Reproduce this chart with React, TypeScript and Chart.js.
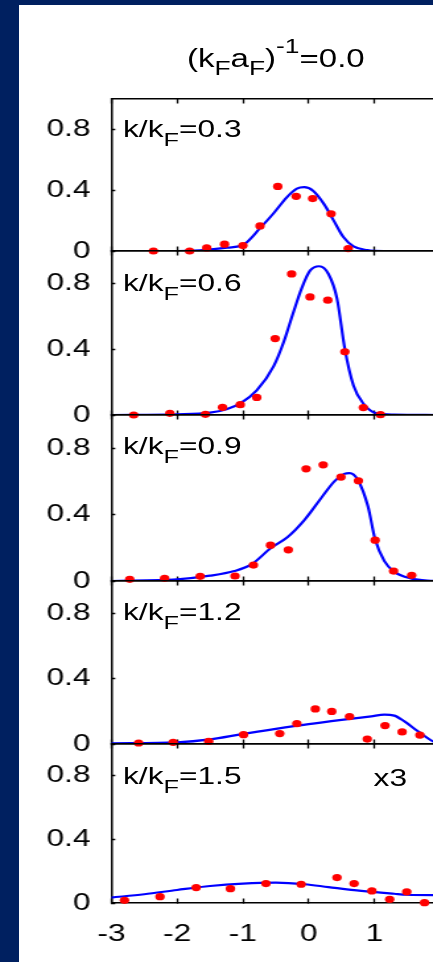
import React, { useEffect, useRef } from 'react';
import { Chart, registerables } from 'chart.js';

Chart.register(...registerables);

// ---------------- data ----------------
const TITLE_VALUE = '0.0';
const panelKValues = ['0.3', '0.6', '0.9', '1.2', '1.5'];
const panelScaleNotes = ['', '', '', '', 'x3'];
const xTickValues = [-3, -2, -1, 0, 1, 2];
const xTickLabels = ['-3', '-2', '-1', '0', '1', ''];
const yTickValues = [0, 0.4, 0.8];
const yTickLabels = ['0', '0.4', '0.8'];

// k/kF = 0.3
const dots03X = [-2.36, -1.81, -1.55, -1.28, -1.0, -0.74, -0.47, -0.19, 0.06, 0.34, 0.6];
const dots03Y = [0.0, 0.0, 0.02, 0.045, 0.036, 0.165, 0.425, 0.36, 0.345, 0.245, 0.016];
const fit03X = [-3, -2.0, -1.65, -1.24, -0.99, -0.74, -0.53, -0.33, -0.18, -0.07, 0.07, 0.23, 0.38, 0.53, 0.68, 0.89, 1.14, 2];
const fit03Y = [0, 0.0, 0.005, 0.022, 0.042, 0.15, 0.25, 0.355, 0.41, 0.42, 0.395, 0.31, 0.2, 0.09, 0.03, 0.006, 0, 0];

// k/kF = 0.6
const dots06X = [-2.66, -2.11, -1.57, -1.31, -1.04, -0.79, -0.51, -0.26, 0.02, 0.29, 0.55, 0.83, 1.09];
const dots06Y = [0.0, 0.01, 0.004, 0.047, 0.063, 0.107, 0.466, 0.86, 0.72, 0.7, 0.385, 0.045, 0.002];
const fit06X = [-3, -2.0, -1.5, -1.25, -1.04, -0.79, -0.53, -0.38, -0.23, -0.1, 0.02, 0.16, 0.3, 0.43, 0.55, 0.68, 0.83, 1.03, 1.3, 2];
const fit06Y = [0, 0.004, 0.014, 0.035, 0.071, 0.15, 0.3, 0.445, 0.63, 0.78, 0.88, 0.907, 0.86, 0.71, 0.4, 0.18, 0.07, 0.01, 0.002, 0];

// k/kF = 0.9
const dots09X = [-2.72, -2.19, -1.65, -1.12, -0.84, -0.58, -0.31, -0.04, 0.22, 0.49, 0.755, 1.01, 1.29, 1.565];
const dots09Y = [0.01, 0.016, 0.028, 0.03, 0.096, 0.216, 0.188, 0.676, 0.7, 0.626, 0.604, 0.246, 0.06, 0.034];
const fit09X = [-3, -2.0, -1.5, -1.13, -0.87, -0.57, -0.32, -0.06, 0.19, 0.39, 0.54, 0.62, 0.745, 0.9, 1.01, 1.15, 1.3, 1.55, 1.8, 2];
const fit09Y = [0, 0.01, 0.032, 0.06, 0.1, 0.2, 0.265, 0.37, 0.5, 0.6, 0.645, 0.65, 0.61, 0.45, 0.25, 0.12, 0.055, 0.016, 0.002, 0];

// k/kF = 1.2
const dots12X = [-2.585, -2.06, -1.52, -0.99, -0.44, -0.18, 0.1, 0.35, 0.62, 0.89, 1.16, 1.42, 1.69];
const dots12Y = [0.006, 0.01, 0.016, 0.057, 0.064, 0.125, 0.215, 0.2, 0.168, 0.03, 0.113, 0.074, 0.055];
const fit12X = [-3, -2.0, -1.5, -1.0, -0.5, 0.0, 0.5, 0.95, 1.15, 1.3, 1.45, 1.66, 1.89, 2];
const fit12Y = [0.004, 0.01, 0.028, 0.062, 0.093, 0.122, 0.148, 0.17, 0.18, 0.174, 0.14, 0.078, 0.016, 0];

// k/kF = 1.5 (x3)
const dots15X = [-2.8, -2.26, -1.71, -1.19, -0.65, -0.115, 0.43, 0.69, 0.96, 1.23, 1.49, 1.76];
const dots15Y = [0.017, 0.04, 0.097, 0.09, 0.122, 0.118, 0.16, 0.122, 0.076, 0.023, 0.07, 0.002];
const fit15X = [-3, -2.5, -2.0, -1.5, -1.0, -0.5, -0.06, 0.3, 0.8, 1.3, 1.49, 1.9, 2];
const fit15Y = [0.034, 0.055, 0.082, 0.107, 0.122, 0.128, 0.118, 0.1, 0.076, 0.058, 0.052, 0.05, 0.05];

// ---------------- layout / style ----------------
const NAVY = '#002060';
const RED = '#ff0000';
const BLUE = '#0000ff';
const FONT = '"Liberation Sans", Arial, Helvetica, sans-serif';
const S = 1.32; // horizontal stretch of the whole figure
const PLOT_LEFT = 111.3 / S;
const PLOT_RIGHT = 440.3 / S;
const CANVAS_W = 360;
const PANEL_EDGES = [99, 251, 415, 581, 744, 903];
const PAD_TOP = 38;
const PAD_BOTTOM = [38, 38, 38, 38, 62];
const LABEL_BASELINES = [137.3, 291.5, 454.7, 620.7, 784.7];
const LABEL_LEFT = 93.2;
const NOTE_LEFT = 283;
const BASE_K = 0.8465; // baseline offset factor for line-height 1

type PanelProps = {
  index: number;
  dotsX: number[];
  dotsY: number[];
  fitX: number[];
  fitY: number[];
};

function Panel({ index, dotsX, dotsY, fitX, fitY }: PanelProps) {
  const ref = useRef<HTMLCanvasElement | null>(null);
  const top = PANEL_EDGES[index] - PAD_TOP;
  const h = PANEL_EDGES[index + 1] - PANEL_EDGES[index];
  const H = PAD_TOP + h + PAD_BOTTOM[index];
  const showX = index === PANEL_EDGES.length - 2;

  useEffect(() => {
    if (!ref.current) return;
    const tickFont = { family: FONT, size: 24, lineHeight: 1.2 };
    const xCommon = (pos: 'top' | 'bottom', boxH: number, labels: boolean) => ({
      type: 'linear' as const,
      position: pos,
      min: xTickValues[0],
      max: xTickValues[xTickValues.length - 1],
      afterBuildTicks: (s: any) => {
        s.ticks = xTickValues.map((v) => ({ value: v }));
      },
      afterFit: (s: any) => {
        s.height = boxH;
      },
      ticks: {
        display: labels,
        font: tickFont,
        color: '#000',
        padding: 21.3,
        maxRotation: 0,
        autoSkip: false,
        callback: (_v: any, i: number) => xTickLabels[i],
      },
      grid: {
        drawOnChartArea: false,
        drawTicks: true,
        tickLength: -4.5,
        tickWidth: 1.3,
        tickColor: '#000',
      },
      border: { display: true, color: '#000', width: 1.6 },
    });

    const chart = new Chart(ref.current, {
      type: 'scatter',
      data: {
        datasets: [
          {
            data: dotsX.map((x, i) => ({ x, y: dotsY[i] })),
            showLine: false,
            pointRadius: 3.6,
            pointHoverRadius: 3.6,
            pointBackgroundColor: RED,
            pointBorderWidth: 0,
            clip: false as any,
          },
          {
            data: fitX.map((x, i) => ({ x, y: fitY[i] })),
            showLine: true,
            borderColor: BLUE,
            borderWidth: 2.2,
            pointRadius: 0,
            pointHoverRadius: 0,
            cubicInterpolationMode: 'monotone',
            fill: false,
          },
        ],
      },
      options: {
        animation: false,
        responsive: false,
        maintainAspectRatio: false,
        devicePixelRatio: 1,
        events: [],
        layout: { padding: { left: 0, right: CANVAS_W - PLOT_RIGHT, top: 0, bottom: 0 } },
        plugins: {
          legend: { display: false },
          tooltip: { enabled: false },
          title: { display: false },
        },
        scales: {
          x: xCommon('bottom', PAD_BOTTOM[index], showX) as any,
          x2: xCommon('top', PAD_TOP, false) as any,
          y: {
            type: 'linear',
            position: 'left',
            min: 0,
            max: 1,
            afterBuildTicks: (s: any) => {
              s.ticks = yTickValues.map((v) => ({ value: v }));
            },
            afterFit: (s: any) => {
              s.width = PLOT_LEFT;
            },
            ticks: {
              font: tickFont,
              color: '#000',
              padding: 18.7,
              callback: (_v: any, i: number) => yTickLabels[i],
            },
            grid: {
              drawOnChartArea: false,
              drawTicks: true,
              tickLength: -3,
              tickWidth: 1.5,
              tickColor: '#000',
            },
            border: { display: true, color: '#000', width: 1.5 },
          } as any,
        },
      },
    });
    return () => chart.destroy();
  }, []);

  return (
    <canvas
      ref={ref}
      width={CANVAS_W}
      height={H}
      style={{ position: 'absolute', left: 0, top, width: CANVAS_W, height: H }}
    />
  );
}

function Sub({ children, shift, size }: { children: React.ReactNode; shift: number; size: number }) {
  return (
    <span style={{ fontSize: size, position: 'relative', top: shift }}>{children}</span>
  );
}

export default function App() {
  const panels = [
    { dotsX: dots03X, dotsY: dots03Y, fitX: fit03X, fitY: fit03Y },
    { dotsX: dots06X, dotsY: dots06Y, fitX: fit06X, fitY: fit06Y },
    { dotsX: dots09X, dotsY: dots09Y, fitX: fit09X, fitY: fit09Y },
    { dotsX: dots12X, dotsY: dots12Y, fitX: fit12X, fitY: fit12Y },
    { dotsX: dots15X, dotsY: dots15Y, fitX: fit15X, fitY: fit15Y },
  ];
  const textStyle: React.CSSProperties = {
    position: 'absolute',
    fontFamily: FONT,
    fontSize: 24,
    lineHeight: 1,
    whiteSpace: 'nowrap',
    color: '#000',
  };
  return (
    <div style={{ position: 'fixed', inset: 0, background: NAVY, overflow: 'hidden' }}>
      <div style={{ position: 'absolute', left: 19, top: 5, right: -20, bottom: -20, background: '#fff' }} />
      <div
        style={{
          position: 'absolute',
          left: 0,
          top: 0,
          width: CANVAS_W,
          height: 1000,
          transform: `scaleX(${S})`,
          transformOrigin: '0 0',
        }}
      >
        <div
          style={{
            ...textStyle,
            fontSize: 25,
            left: PLOT_LEFT,
            width: PLOT_RIGHT - PLOT_LEFT,
            textAlign: 'center',
            top: 66.7 - BASE_K * 25,
          }}
        >
          (k<Sub shift={8.3} size={20}>F</Sub>a<Sub shift={8.3} size={20}>F</Sub>)<Sub shift={-13.4} size={20}>-1</Sub>={TITLE_VALUE}
        </div>
        {panels.map((p, i) => (
          <Panel key={i} index={i} {...p} />
        ))}
        {panelKValues.map((k, i) => (
          <div key={'l' + i} style={{ ...textStyle, left: LABEL_LEFT, top: LABEL_BASELINES[i] - BASE_K * 24 }}>
            k/k<Sub shift={9} size={19.2}>F</Sub>={k}
          </div>
        ))}
        {panelScaleNotes.map((n, i) =>
          n ? (
            <div key={'n' + i} style={{ ...textStyle, left: NOTE_LEFT, top: LABEL_BASELINES[i] + 1.8 - BASE_K * 24 }}>
              {n}
            </div>
          ) : null
        )}
      </div>
    </div>
  );
}
